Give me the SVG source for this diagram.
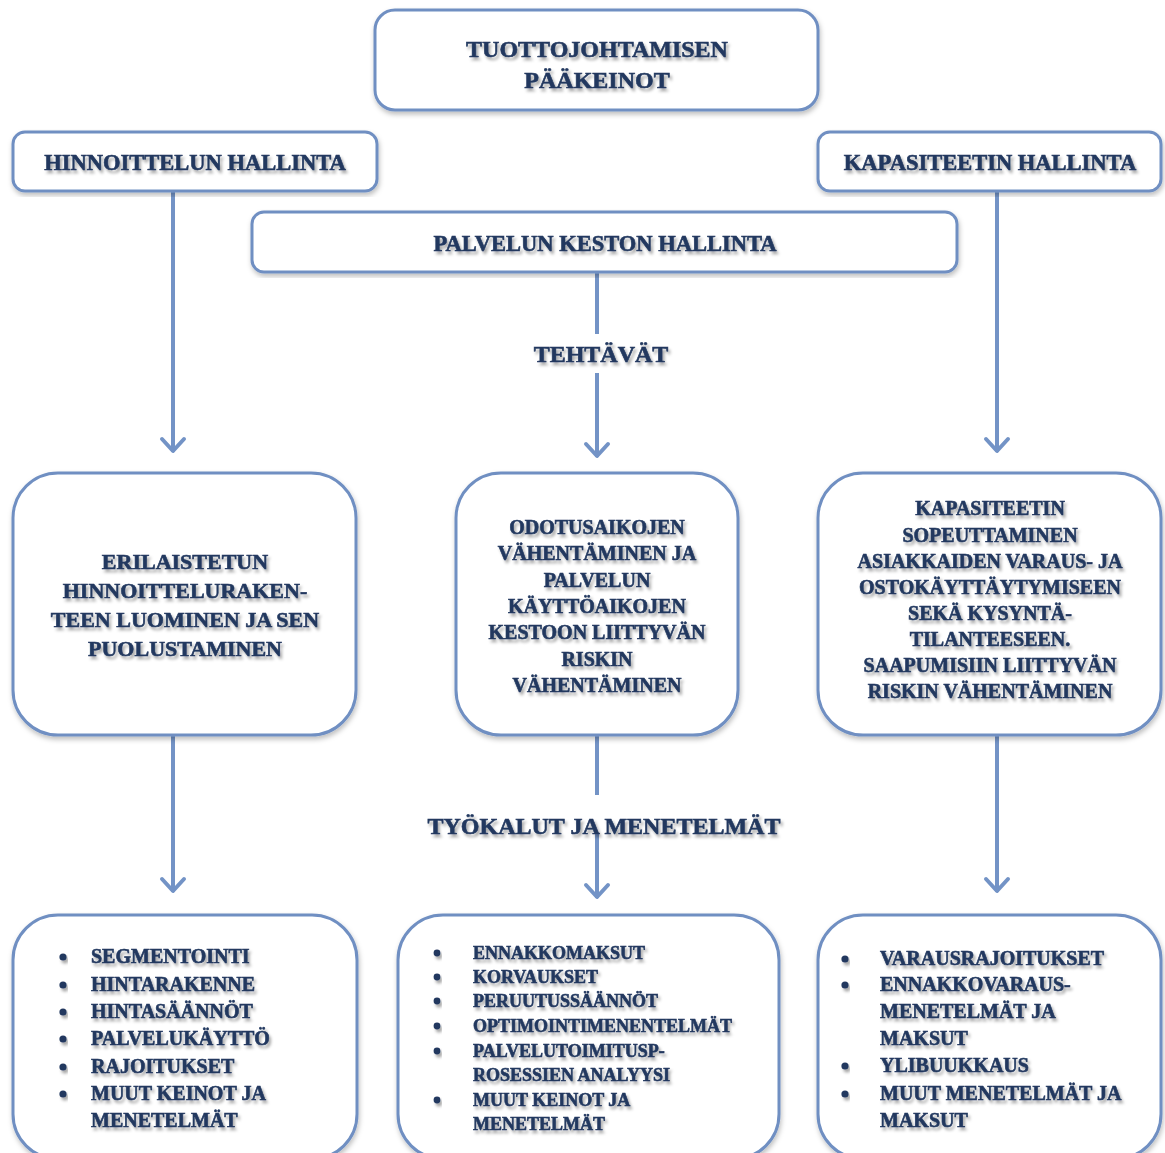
<svg xmlns="http://www.w3.org/2000/svg" width="1165" height="1153" viewBox="0 0 1165 1153">
<defs>
<filter id="ts" x="-10%" y="-30%" width="120%" height="160%">
<feDropShadow dx="2" dy="3" stdDeviation="1.8" flood-color="#000" flood-opacity="0.35"/>
</filter>
<filter id="bs" x="-5%" y="-5%" width="110%" height="115%">
<feDropShadow dx="1" dy="3" stdDeviation="2.5" flood-color="#000" flood-opacity="0.25"/>
</filter>
<marker id="chev" viewBox="-14 -16 28 18" refX="0" refY="0" markerWidth="28" markerHeight="18" markerUnits="userSpaceOnUse" orient="0">
<path d="M-11 -13 L0 -1 L11 -13" fill="none" stroke="#7393c6" stroke-width="4" stroke-linecap="round" stroke-linejoin="round"/>
</marker>
</defs>
<style>
.box{fill:#ffffff;stroke:#6f8fc2;stroke-width:3;filter:url(#bs)}
.t{font-family:"Liberation Serif","DejaVu Serif",serif;font-weight:bold;fill:#22385f;stroke:#22385f;stroke-width:0.6;filter:url(#ts)}
.c{text-anchor:middle}
.dot{fill:#22385f;filter:url(#ts)}
.line{stroke:#7393c6;stroke-width:4;fill:none}
</style>
<rect width="1165" height="1153" fill="#ffffff"/>

<g id="connectors">
<line class="line" x1="173" y1="192" x2="173" y2="452" marker-end="url(#chev)"/>
<line class="line" x1="997" y1="192" x2="997" y2="452" marker-end="url(#chev)"/>
<line class="line" x1="597" y1="272" x2="597" y2="334"/>
<line class="line" x1="597" y1="373" x2="597" y2="457" marker-end="url(#chev)"/>
<line class="line" x1="173" y1="735" x2="173" y2="892" marker-end="url(#chev)"/>
<line class="line" x1="997" y1="735" x2="997" y2="892" marker-end="url(#chev)"/>
<line class="line" x1="597" y1="735" x2="597" y2="795"/>
<line class="line" x1="597" y1="833" x2="597" y2="898" marker-end="url(#chev)"/>
</g>

<g id="top">
<rect class="box" x="375" y="10" width="443" height="100" rx="20"/>
<text class="t c" x="597" y="57" font-size="24">TUOTTOJOHTAMISEN</text>
<text class="t c" x="597" y="88" font-size="24">PÄÄKEINOT</text>
</g>

<g id="hinnoittelu">
<rect class="box" x="13" y="132" width="364" height="59" rx="12"/>
<text class="t c" x="195" y="170" font-size="22.5">HINNOITTELUN HALLINTA</text>
</g>

<g id="kapasiteetti">
<rect class="box" x="818" y="132" width="343" height="59" rx="12"/>
<text class="t c" x="990" y="170" font-size="22.5">KAPASITEETIN HALLINTA</text>
</g>

<g id="palvelu">
<rect class="box" x="252" y="212" width="705" height="60" rx="12"/>
<text class="t c" x="605" y="251" font-size="22.5">PALVELUN KESTON HALLINTA</text>
</g>

<g id="tehtavat">
<text class="t c" x="601" y="362" font-size="24">TEHTÄVÄT</text>
</g>

<g id="mid-left">
<rect class="box" x="13" y="473" width="343" height="262" rx="45"/>
<text class="t c" x="185" y="569" font-size="22">ERILAISTETUN</text>
<text class="t c" x="185" y="598" font-size="22">HINNOITTELURAKEN-</text>
<text class="t c" x="185" y="627" font-size="22">TEEN LUOMINEN JA SEN</text>
<text class="t c" x="185" y="656" font-size="22">PUOLUSTAMINEN</text>
</g>

<g id="mid-center">
<rect class="box" x="456" y="473" width="282" height="262" rx="45"/>
<text class="t c" x="597" y="534" font-size="20">ODOTUSAIKOJEN</text>
<text class="t c" x="597" y="560" font-size="20">VÄHENTÄMINEN JA</text>
<text class="t c" x="597" y="587" font-size="20">PALVELUN</text>
<text class="t c" x="597" y="613" font-size="20">KÄYTTÖAIKOJEN</text>
<text class="t c" x="597" y="639" font-size="20">KESTOON LIITTYVÄN</text>
<text class="t c" x="597" y="666" font-size="20">RISKIN</text>
<text class="t c" x="597" y="692" font-size="20">VÄHENTÄMINEN</text>
</g>

<g id="mid-right">
<rect class="box" x="818" y="473" width="343" height="262" rx="45"/>
<text class="t c" x="990" y="515" font-size="20">KAPASITEETIN</text>
<text class="t c" x="990" y="542" font-size="20">SOPEUTTAMINEN</text>
<text class="t c" x="990" y="568" font-size="20">ASIAKKAIDEN VARAUS- JA</text>
<text class="t c" x="990" y="594" font-size="20">OSTOKÄYTTÄYTYMISEEN</text>
<text class="t c" x="990" y="620" font-size="20">SEKÄ KYSYNTÄ-</text>
<text class="t c" x="990" y="646" font-size="20">TILANTEESEEN.</text>
<text class="t c" x="990" y="672" font-size="20">SAAPUMISIIN LIITTYVÄN</text>
<text class="t c" x="990" y="698" font-size="20">RISKIN VÄHENTÄMINEN</text>
</g>

<g id="tyokalut">
<text class="t c" x="604" y="834" font-size="24">TYÖKALUT JA MENETELMÄT</text>
</g>

<g id="bottom-left">
<rect class="box" x="13" y="915" width="344" height="244" rx="45"/>
<g class="dot">
<circle cx="63" cy="957" r="3.6"/><circle cx="63" cy="985" r="3.6"/><circle cx="63" cy="1012" r="3.6"/>
<circle cx="63" cy="1039" r="3.6"/><circle cx="63" cy="1067" r="3.6"/><circle cx="63" cy="1094" r="3.6"/>
</g>
<g class="t" font-size="20">
<text x="91" y="963">SEGMENTOINTI</text>
<text x="91" y="991">HINTARAKENNE</text>
<text x="91" y="1018">HINTASÄÄNNÖT</text>
<text x="91" y="1045">PALVELUKÄYTTÖ</text>
<text x="91" y="1073">RAJOITUKSET</text>
<text x="91" y="1100">MUUT KEINOT JA</text>
<text x="91" y="1127">MENETELMÄT</text>
</g>
</g>

<g id="bottom-center">
<rect class="box" x="398" y="915" width="381" height="244" rx="45"/>
<g class="dot">
<circle cx="437" cy="953" r="3.4"/><circle cx="437" cy="977" r="3.4"/><circle cx="437" cy="1001" r="3.4"/>
<circle cx="437" cy="1026" r="3.4"/><circle cx="437" cy="1051" r="3.4"/><circle cx="437" cy="1100" r="3.4"/>
</g>
<g class="t" font-size="18">
<text x="473" y="959">ENNAKKOMAKSUT</text>
<text x="473" y="983">KORVAUKSET</text>
<text x="473" y="1007">PERUUTUSSÄÄNNÖT</text>
<text x="473" y="1032">OPTIMOINTIMENENTELMÄT</text>
<text x="473" y="1057">PALVELUTOIMITUSP-</text>
<text x="473" y="1081">ROSESSIEN ANALYYSI</text>
<text x="473" y="1106">MUUT KEINOT JA</text>
<text x="473" y="1130">MENETELMÄT</text>
</g>
</g>

<g id="bottom-right">
<rect class="box" x="818" y="915" width="343" height="244" rx="45"/>
<g class="dot">
<circle cx="845" cy="959" r="3.6"/><circle cx="845" cy="985" r="3.6"/>
<circle cx="845" cy="1066" r="3.6"/><circle cx="845" cy="1094" r="3.6"/>
</g>
<g class="t" font-size="20">
<text x="880" y="965">VARAUSRAJOITUKSET</text>
<text x="880" y="991">ENNAKKOVARAUS-</text>
<text x="880" y="1018">MENETELMÄT JA</text>
<text x="880" y="1045">MAKSUT</text>
<text x="880" y="1072">YLIBUUKKAUS</text>
<text x="880" y="1100">MUUT MENETELMÄT JA</text>
<text x="880" y="1127">MAKSUT</text>
</g>
</g>
</svg>
